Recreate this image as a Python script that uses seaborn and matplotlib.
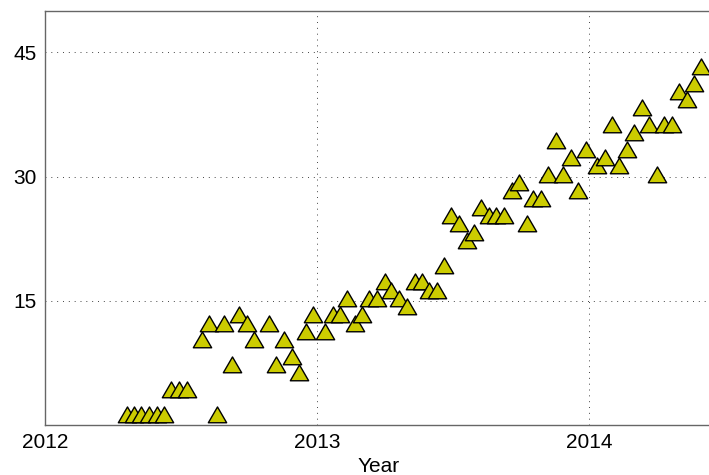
import pandas as pd
import numpy as np
import matplotlib
matplotlib.use('Agg')
import matplotlib.pyplot as plt
from matplotlib.path import Path
import seaborn as sns

year = [2012.299, 2012.326, 2012.353, 2012.381, 2012.410, 2012.4375, 2012.461, 2012.490,
        2012.522, 2012.575, 2012.603, 2012.630, 2012.658, 2012.685, 2012.713, 2012.740,
        2012.767, 2012.822, 2012.848, 2012.877, 2012.906, 2012.932, 2012.958, 2012.985,
        2013.028, 2013.057, 2013.083, 2013.110, 2013.1375, 2013.164, 2013.191, 2013.221,
        2013.248, 2013.272, 2013.301, 2013.329, 2013.358, 2013.385, 2013.412, 2013.439,
        2013.466, 2013.493, 2013.522, 2013.549, 2013.576, 2013.603, 2013.630, 2013.657,
        2013.687, 2013.715, 2013.742, 2013.770, 2013.794, 2013.824, 2013.849, 2013.878,
        2013.904, 2013.932, 2013.960, 2013.988, 2014.028, 2014.057, 2014.084, 2014.110,
        2014.1375, 2014.165, 2014.193, 2014.221, 2014.248, 2014.276, 2014.304, 2014.331,
        2014.358, 2014.385, 2014.412]
value = [1, 1, 1, 1, 1, 1, 4, 4,
         4, 10, 12, 1, 12, 7, 13, 12,
         10, 12, 7, 10, 8, 6, 11, 13,
         11, 13, 13, 15, 12, 13, 15, 15,
         17, 16, 15, 14, 17, 17, 16, 16,
         19, 25, 24, 22, 23, 26, 25, 25,
         25, 28, 29, 24, 27, 27, 30, 34,
         30, 32, 28, 33, 31, 32, 36, 31,
         33, 35, 38, 36, 30, 36, 36, 40,
         39, 41, 43]
x_ticks = [2012, 2013, 2014]
y_ticks = [15, 30, 45]

data = pd.DataFrame({'Year': year, 'value': value})

sns.set_style('white')
plt.rcParams['font.family'] = ['Liberation Sans', 'DejaVu Sans']

# triangle centred on its centroid, like MATLAB's '^'
tri = Path([(0, 1), (-0.87, -0.5), (0.87, -0.5), (0, 1)],
           [Path.MOVETO, Path.LINETO, Path.LINETO, Path.CLOSEPOLY])

fig = plt.figure(figsize=(7.09, 4.75), dpi=100)
ax = fig.add_axes([45.3 / 709, 50 / 475, 1.005 - 45.3 / 709, 414 / 475])

sns.scatterplot(data=data, x='Year', y='value', marker=tri, s=230,
                color='#cccc00', edgecolor='black', linewidth=1.0, ax=ax, zorder=3)

ax.set_xlim(2012, 2012 + (1.005 * 709 - 45.3) / 272)
ax.set_ylim(0, 50)
ax.set_xticks(x_ticks)
ax.set_xticklabels([str(t) for t in x_ticks])
ax.set_yticks(y_ticks)
ax.grid(True, linestyle=(0, (1, 5)), color='#444444', linewidth=0.7)
ax.tick_params(direction='in', length=5, width=0.8, labelsize=15, pad=6, colors='#555555',
               labelcolor='black')
for sp in ax.spines.values():
    sp.set_color('#666666')
    sp.set_linewidth(1.0)
ax.set_xlabel('Year', fontsize=15, labelpad=3, color='black')
ax.set_ylabel('')

fig.savefig('out.png', dpi=100)
